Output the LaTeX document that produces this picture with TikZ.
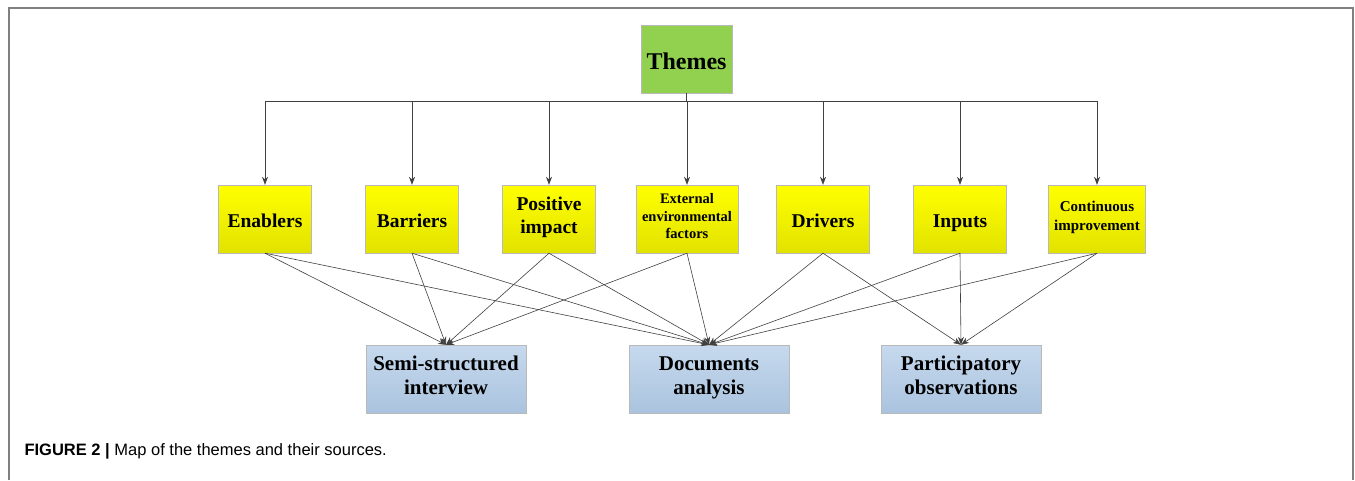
\documentclass[tikz,border=0pt]{standalone}
\usepackage{fontspec}
\setmainfont{Liberation Serif}
\newfontfamily\capfont{Liberation Sans}
\usepackage{xcolor}
\usetikzlibrary{arrows.meta, positioning}
\definecolor{themegreen}{RGB}{146,208,80}
\definecolor{boxyellow}{RGB}{255,255,0}
\definecolor{boxyellowdk}{RGB}{226,226,0}
\definecolor{srcblue}{RGB}{198,217,238}
\definecolor{srcbluedk}{RGB}{170,195,222}
\definecolor{linegray}{RGB}{64,64,64}
\newcommand\topstrut{\rule{0pt}{1.05\baselineskip}}
\newcommand\botstrut{\rule[-.3\baselineskip]{0pt}{.3\baselineskip}}

\begin{document}
\begin{tikzpicture}[x = 1pt, y = -1pt,
  box/.style = {draw = gray!55, minimum height = 68pt, inner sep = 0pt, align = center,
    font = \bfseries\fontsize{19.5}{23}\selectfont, execute at begin node = \topstrut, execute at end node = \botstrut},
  small/.style = {font = \bfseries\fontsize{14.5}{17.5}\selectfont},
  theme/.style = {box, top color = boxyellow, bottom color = boxyellowdk, minimum width = 93pt},
  source/.style = {box, top color = srcblue, bottom color = srcbluedk, minimum width = 160pt,
    font = \bfseries\fontsize{21}{24}\selectfont},
  link/.style = {draw = linegray, line width = 0.6pt, -{Stealth[length = 8pt, width = 6pt]}}]
\useasboundingbox (0,0) rectangle (1355,480);
% frame
\draw[gray, line width = 1.6pt] (9,480) -- (9,8) -- (1353,8) -- (1353,480);

% top node
\node[box, fill = themegreen, minimum width = 91pt, font = \bfseries\fontsize{24}{28}\selectfont] (themes) at (686.5,59) {Themes};
\coordinate (bar) at (686.5,101);

% themes
\node[theme] (enab) at (265,219) {Enablers};
\node[theme] (barr) at (412,219) {Barriers};
\node[theme] (posi) at (549,219) {Positive\\impact};
\node[theme, small, minimum width = 102pt] (ext) at (687,219) {External\\environmental\\factors};
\node[theme] (driv) at (823,219) {Drivers};
\node[theme] (inp) at (960,219) {Inputs};
\node[theme, small, minimum width = 97pt, font = \bfseries\fontsize{15}{19}\selectfont] (cont) at (1097,219) {Continuous\\improvement};

% sources
\node[source] (semi) at (446,379) {Semi-structured\\interview};
\node[source] (docs) at (709,379) {Documents\\analysis};
\node[source] (part) at (961,379) {Participatory\\observations};

% tree
\draw[linegray, line width = 0.6pt] (themes.south) -- (bar);
\draw[linegray, line width = 0.6pt] (bar -| enab) -- (bar -| cont);
\foreach \n in {enab, barr, posi, ext, driv, inp, cont}
\draw[link] (bar -| \n) -- (\n.north);

% links to sources
\foreach \n in {enab, barr, posi, ext}
\draw[link] (\n.south) -- (semi.north);
\foreach \n in {enab, barr, posi, ext, driv, inp, cont}
\draw[link] (\n.south) -- (docs.north);
\foreach \n in {driv, inp, cont}
\draw[link] (\n.south) -- (part.north);

% caption
\node[anchor = base west, font = \capfont\fontsize{16.5}{19}\selectfont] (cap) at (21,455) {\textbf{FIGURE 2 |} Map of the themes and their sources.};
\end{tikzpicture}
\end{document}
